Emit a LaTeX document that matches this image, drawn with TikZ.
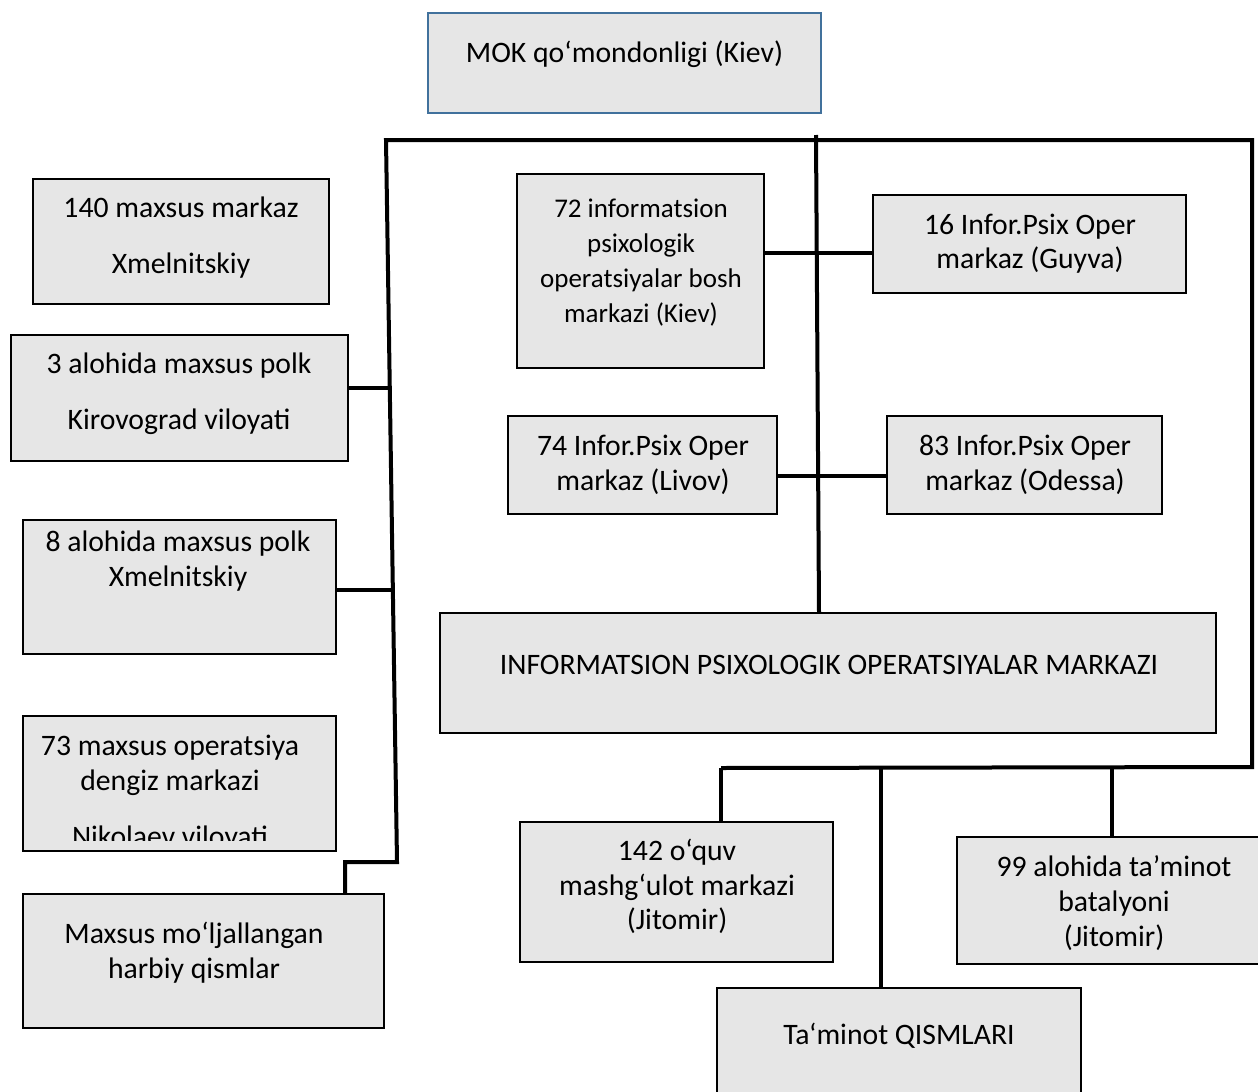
\documentclass[tikz,border=0pt]{standalone}
\usepackage{fontspec}
\setmainfont{Carlito}
\definecolor{boxfill}{RGB}{230,230,230}
\definecolor{topblue}{RGB}{65,113,156}
\begin{document}
\begin{tikzpicture}[x=1pt,y=-1pt,
  box/.style={draw=black, line width=1.6pt, fill=boxfill, rectangle, inner sep=0pt},
  topbox/.style={box, draw=topblue, line width=2pt},
  txt/.style={inner sep=0pt, anchor=base, font=\fontsize{29.7}{35}\selectfont},
  smalltxt/.style={txt, font=\fontsize{27}{35}\selectfont},
  conn/.style={line width=4pt, line join=miter}]
\useasboundingbox (0,0) rectangle (1258,1092);

% boxes
\node[topbox, minimum width=393pt, minimum height=100pt] (mok) at (624.5,63) {};
\node[box, minimum width=296pt, minimum height=125pt] (b140) at (181,241.5) {};
\node[box, minimum width=337pt, minimum height=126pt] (b3) at (179.5,398) {};
\node[box, minimum width=313pt, minimum height=134pt] (b8) at (179.5,587) {};
\node[box, minimum width=313pt, minimum height=135pt] (b73) at (179.5,783.5) {};
\node[box, minimum width=361pt, minimum height=134pt] (bmx) at (203.5,961) {};
\node[box, minimum width=247pt, minimum height=194pt] (b72) at (640.5,271) {};
\node[box, minimum width=313pt, minimum height=98pt] (b16) at (1029.5,244) {};
\node[box, minimum width=269pt, minimum height=98pt] (b74) at (642.5,465) {};
\node[box, minimum width=275pt, minimum height=98pt] (b83) at (1024.5,465) {};
\node[box, minimum width=776pt, minimum height=120pt] (binfo) at (828,673) {};
\node[box, minimum width=313pt, minimum height=140pt] (b142) at (676.5,892) {};
\node[box, minimum width=318pt, minimum height=127pt] (b99) at (1116,900.5) {};
\node[box, minimum width=364pt, minimum height=122pt] (btam) at (899,1049) {};

% texts
\node[txt] (tmok) at (624.5,62) {MOK qo‘mondonligi (Kiev)};
\node[txt] (t140a) at (181,217) {140 maxsus markaz};
\node[txt] (t140b) at (181,273.5) {Xmelnitskiy};
\node[txt] (t3a) at (179,373.5) {3 alohida maxsus polk};
\node[txt] (t3b) at (179,429) {Kirovograd viloyati};
\node[txt] (t8a) at (178,551.5) {8 alohida maxsus polk};
\node[txt] (t8b) at (178,586.5) {Xmelnitskiy};
\node[txt] (t73a) at (170,755) {73 maxsus operatsiya};
\node[txt] (t73b) at (170,790) {dengiz markazi};
\begin{scope}
  \clip (20,700) rectangle (340,840);
  \node[txt] (t73c) at (170,846) {Nikolaev viloyati};
\end{scope}
\node[txt] (tmxa) at (194,943.5) {Maxsus mo‘ljallangan};
\node[txt] (tmxb) at (194,978.5) {harbiy qismlar};
\node[smalltxt] (t72a) at (641,217) {72 informatsion};
\node[smalltxt] (t72b) at (641,252) {psixologik};
\node[smalltxt] (t72c) at (641,287) {operatsiyalar bosh};
\node[smalltxt] (t72d) at (641,322) {markazi (Kiev)};
\node[txt] (t16a) at (1030,234) {16 Infor.Psix Oper};
\node[txt] (t16b) at (1030,268) {markaz (Guyva)};
\node[txt] (t74a) at (643,455) {74 Infor.Psix Oper};
\node[txt] (t74b) at (643,490) {markaz (Livov)};
\node[txt] (t83a) at (1025,455) {83 Infor.Psix Oper};
\node[txt] (t83b) at (1025,490) {markaz (Odessa)};
\node[txt] (tinfo) at (829,674) {INFORMATSION PSIXOLOGIK OPERATSIYALAR MARKAZI};
\node[txt] (t142a) at (677,860) {142 o‘quv};
\node[txt] (t142b) at (677,895) {mashg‘ulot markazi};
\node[txt] (t142c) at (677,929) {(Jitomir)};
\node[txt] (t99a) at (1114,876) {99 alohida ta’minot};
\node[txt] (t99b) at (1114,911) {batalyoni};
\node[txt] (t99c) at (1114,946) {(Jitomir)};
\node[txt] (ttam) at (899,1044) {Ta‘minot QISMLARI};

% frame coordinates
\coordinate (fTL) at (386,140);
\coordinate (fTR) at (1252,140);
\coordinate (fBR) at (1252,767);
\coordinate (bL) at (721,768);
\coordinate (fBL) at (397,862);
\coordinate (mx1) at (345,862);
\coordinate (mTop) at (816,135);
\coordinate (mBot) at (819,0);
\coordinate (c3) at (390,388);
\coordinate (c8) at (393,590);
\coordinate (h1) at (0,253);
\coordinate (h2) at (0,476);
\coordinate (d2) at (881,767);
\coordinate (d3) at (1112,766);

% connectors
\draw[conn] (mx1 |- bmx.north) -- (mx1) -- (fBL) -- (fTL) -- (fTR) -- (fBR) -- (bL);
\draw[conn] (mTop) -- (mBot |- binfo.north);
\draw[conn] (b3.east |- c3) -- (c3);
\draw[conn] (b8.east |- c8) -- (c8);
\draw[conn] (b72.east |- h1) -- (b16.west |- h1);
\draw[conn] (b74.east |- h2) -- (b83.west |- h2);
\draw[conn] (bL) -- (bL |- b142.north);
\draw[conn] (d2) -- (d2 |- btam.north);
\draw[conn] (d3) -- (d3 |- b99.north);
\end{tikzpicture}
\end{document}
